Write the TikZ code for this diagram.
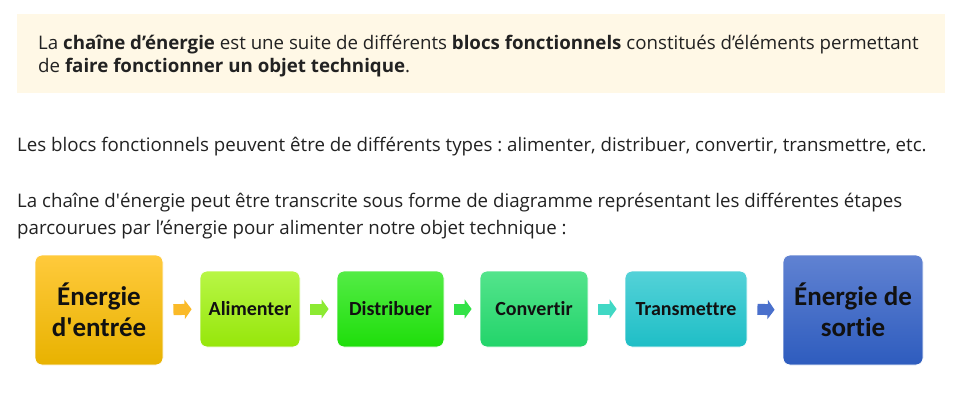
\documentclass[tikz,border=0pt]{standalone}
\usepackage{fontspec}
\setmainfont{Open Sans}
\newfontfamily\boxfont[Ligatures=NoCommon]{Carlito}
\usetikzlibrary{arrows.meta,shadings}
\definecolor{cream}{HTML}{FFF8E6}
\definecolor{ink}{HTML}{111111}
\definecolor{txt}{HTML}{222222}
\newcommand{\sq}{\textquotesingle}
\frenchspacing
\begin{document}
\begin{tikzpicture}[x=1pt,y=-1pt,
  para/.style={anchor=base west,inner sep=0pt,text=txt,font=\fontsize{18.7}{22}\selectfont},
  stage/.style={rounded corners=7pt,draw=white,line width=0.8pt,align=center,
    text=ink,font=\boxfont\bfseries\fontsize{20}{24}\selectfont,
    minimum height=76pt,inner sep=2pt},
  bigstage/.style={stage,minimum height=110pt,font=\boxfont\bfseries\fontsize{27}{31}\selectfont},
  flow/.style={line width=11pt,-{Triangle[length=7pt,width=19pt]},shorten <=10pt,shorten >=8pt}
]
\useasboundingbox (0,0) rectangle (958,404);
\fill[white] (0,0) rectangle (958,404);

% highlighted definition
\fill[cream] (17,14) rectangle (945,93);
\node[para] (def1) at (38,50) {La \textbf{chaîne d’énergie} est une suite de différents \textbf{blocs fonctionnels} constitués d’éléments permettant};
\node[para] (def2) at (38,73) {de \textbf{faire fonctionner un objet technique}.};

% body text
\node[para] (p1) at (17,151) {Les blocs fonctionnels peuvent être de différents types : alimenter, distribuer, convertir, transmettre, etc.};
\node[para] (p2a) at (17,207) {La chaîne d\sq énergie peut être transcrite sous forme de diagramme représentant les différentes étapes};
\node[para] (p2b) at (17,234) {parcourues par l’énergie pour alimenter notre objet technique :};

% energy chain
\node[bigstage,minimum width=128pt,
  top color={rgb,255:red,255;green,202;blue,60},bottom color={rgb,255:red,232;green,178;blue,0}]
  (in) at (99,310) {Énergie\\d'entrée};
\node[stage,minimum width=100pt,top color={rgb,255:red,184;green,246;blue,70},bottom color={rgb,255:red,150;green,230;blue,10}]
  (ali) at (250,309) {Alimenter};
\node[stage,minimum width=107pt,top color={rgb,255:red,84;green,236;blue,70},bottom color={rgb,255:red,30;green,222;blue,10}]
  (dis) at (390.5,309) {Distribuer};
\node[stage,minimum width=108pt,top color={rgb,255:red,84;green,228;blue,140},bottom color={rgb,255:red,34;green,212;blue,106}]
  (con) at (534,309) {Convertir};
\node[stage,minimum width=122pt,top color={rgb,255:red,84;green,210;blue,216},bottom color={rgb,255:red,30;green,190;blue,198}]
  (tra) at (686,309) {Transmettre};
\node[bigstage,minimum width=140pt,top color={rgb,255:red,96;green,130;blue,210},bottom color={rgb,255:red,46;green,92;blue,190}]
  (out) at (853,310) {Énergie de\\sortie};

\draw[flow,color={rgb,255:red,250;green,186;blue,40}] (in.east) -- (ali.west);
\draw[flow,color={rgb,255:red,140;green,234;blue,50}] (ali.east) -- (dis.west);
\draw[flow,color={rgb,255:red,50;green,226;blue,70}] (dis.east) -- (con.west);
\draw[flow,color={rgb,255:red,64;green,216;blue,196}] (con.east) -- (tra.west);
\draw[flow,color={rgb,255:red,74;green,112;blue,204}] (tra.east) -- (out.west);
\end{tikzpicture}
\end{document}
